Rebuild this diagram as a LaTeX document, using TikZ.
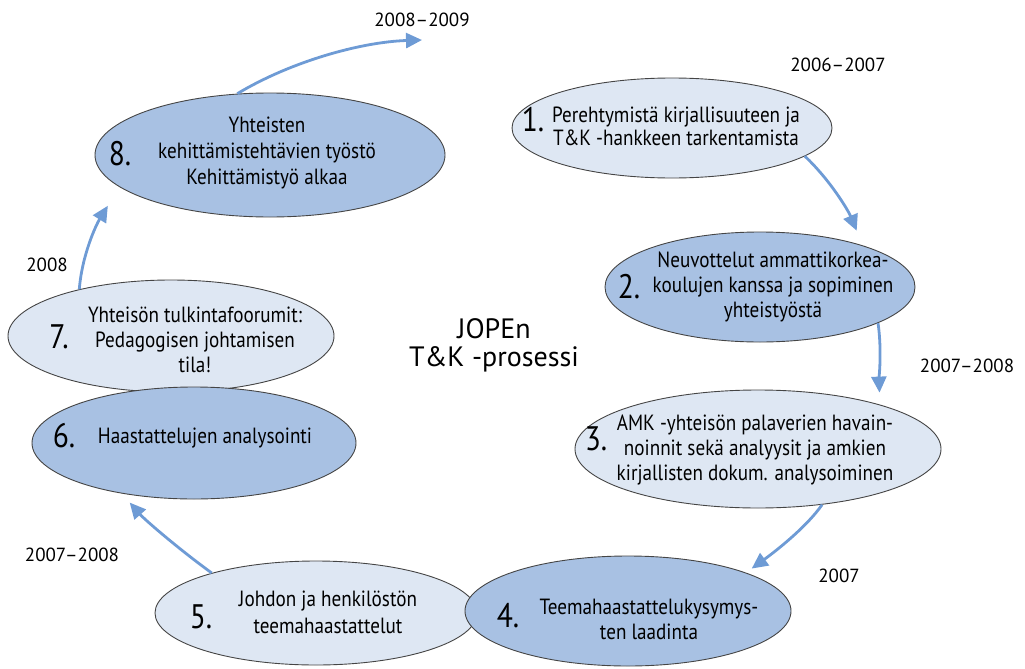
\documentclass[tikz,border=0pt]{standalone}
\usepackage{fontspec}
\setmainfont{PT Sans}[FakeStretch=0.87]
\newfontfamily\plainsans{PT Sans}[Ligatures=TeX]
\usetikzlibrary{shapes.geometric,arrows.meta}

\definecolor{lightfill}{HTML}{DEE7F3}
\definecolor{darkfill}{HTML}{A8C1E3}
\definecolor{arrowblue}{HTML}{6E9BD5}
\definecolor{rimgray}{HTML}{454545}

\begin{document}
\begin{tikzpicture}[x=1pt,y=-1pt,
  phase/.style={ellipse, draw=rimgray, line width=0.9pt, inner sep=0pt},
  light/.style={phase, fill=lightfill},
  dark/.style={phase, fill=darkfill},
  num/.style={font=\fontsize{34}{34}\selectfont, inner sep=0pt},
  body/.style={font=\fontsize{22}{25}\selectfont, align=center, inner sep=0pt},
  year/.style={font=\plainsans\fontsize{19}{19}\selectfont, inner sep=0pt},
  flow/.style={draw=arrowblue, line width=2.8pt, -{Triangle[length=16pt,width=15pt]}},
]
\useasboundingbox (0,0) rectangle (1025,669);

% phase ellipses (later ones overlap earlier ones)
\node[light, minimum width=320pt, minimum height=100pt] (e1) at (672,128) {};
\node[dark,  minimum width=310pt, minimum height=110pt] (e2) at (760,287) {};
\node[light, minimum width=366pt, minimum height=118pt] (e3) at (758,449) {};
\node[light, minimum width=322pt, minimum height=104pt] (e5) at (316,613) {};
\node[dark,  minimum width=326pt, minimum height=110pt] (e4) at (628,611) {};
\node[light, minimum width=326pt, minimum height=112pt] (e7) at (171,336) {};
\node[dark,  minimum width=324pt, minimum height=112pt] (e6) at (194,443) {};
\node[dark,  minimum width=350pt, minimum height=124pt] (e8) at (270,155) {};

% step numbers
\node[num] (n1) at (533,120) {1.};
\node[num] (n2) at (629,287) {2.};
\node[num] (n3) at (596,439) {3.};
\node[num] (n4) at (508,616) {4.};
\node[num] (n5) at (201,617) {5.};
\node[num] (n6) at (64,436) {6.};
\node[num] (n7) at (59,337) {7.};
\node[num] (n8) at (120,154) {8.};

% step descriptions
\node[body, font=\fontsize{22}{23}\selectfont] (t1) at (676,126)
  {Perehtymistä kirjallisuuteen ja\\T\&K -hankkeen tarkentamista};
\node[body] (t2) at (773,287)
  {Neuvottelut ammattikorkea-\\koulujen kanssa ja sopiminen\\yhteistyöstä};
\node[body] (t3) at (755,450)
  {AMK -yhteisön palaverien havain-\\noinnit sekä analyysit ja amkien\\kirjallisten dokum. analysoiminen};
\node[body] (t4) at (649,619)
  {Teemahaastattelukysymys-\\ten laadinta};
\node[body, font=\fontsize{22}{27}\selectfont] (t5) at (328,612)
  {Johdon ja henkilöstön\\teemahaastattelut};
\node[body] (t6) at (205,438) {Haastattelujen analysointi};
\node[body] (t7) at (195,340)
  {Yhteisön tulkintafoorumit:\\Pedagogisen johtamisen\\tila!};
\node[body, font=\fontsize{22}{26}\selectfont] (t8) at (267,153)
  {Yhteisten\\kehittämistehtävien työstö\\Kehittämistyö alkaa};

% title
\node[font=\plainsans\fontsize{28}{28}\selectfont, align=center, inner sep=0pt] (title) at (494,345)
  {JOPEn\\T\&K -prosessi};

% periods
\node[year] (y1) at (422,20) {2008–2009};
\node[year] (y2) at (838,65) {2006–2007};
\node[year] (y3) at (967,366) {2007–2008};
\node[year] (y4) at (839,576) {2007};
\node[year] (y5) at (72,555) {2007–2008};
\node[year] (y6) at (47,265) {2008};

% flow between phases
\coordinate (next) at (422,40);
\draw[flow, shorten >=16pt] (e1.-12.5) .. controls (830,180) and (848,210) .. (e2.22.8);
\draw[flow, shorten >=12pt] (e2.-17) .. controls (882,350) and (879,380) .. (e3.20.7);
\draw[flow, shorten >=7pt] (e3.-41.8) .. controls (808,525) and (780,548) .. (e4.18.4);
\draw[flow, shorten >=12pt] (e5.159) .. controls (180,550) and (145,520) .. (e6.215.4);
\draw[flow, shorten >=22pt] (e7.153.9) .. controls (82,255) and (96,225) .. (e8.192);
\draw[flow] (e8.118) .. controls (290,62) and (360,42) .. (next);
\end{tikzpicture}
\end{document}
